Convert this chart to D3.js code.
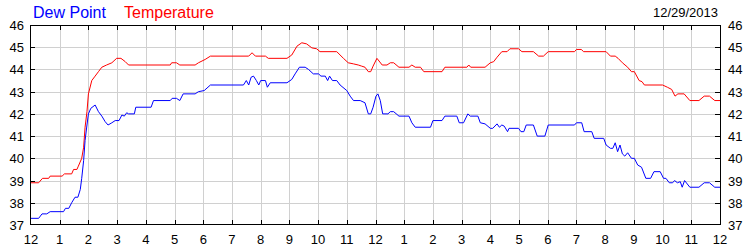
<!DOCTYPE html>
<html>
<head>
<meta charset="utf-8">
<script src="https://cdn.jsdelivr.net/npm/d3@7"></script>
<style>
  body { margin: 0; background: #fff; }
  svg { display: block; font-family: "Liberation Sans", Arial, sans-serif; }
  .grid line { stroke: #d0d0d0; stroke-width: 1; shape-rendering: crispEdges; }
  .tick-mark { stroke: #000; stroke-width: 1; shape-rendering: crispEdges; }
  .lbl { font-size: 13px; fill: #000; }
</style>
</head>
<body>
<svg id="chart" width="750" height="250"></svg>
<script>
'use strict';

// minutes after midnight
var tempMinutes = [0, 16, 24, 37, 40, 65, 70, 85, 89, 96, 99, 106, 110, 113, 117, 120, 127, 134, 141, 148,
    158, 169, 179, 188, 197, 204, 291, 294, 304, 311, 343, 350, 364, 375, 455, 462, 469, 490, 496, 535,
    545, 556, 566, 576, 587, 597, 604, 639, 653, 663, 674, 684, 691, 698, 705, 710, 715, 723, 734, 744,
    751, 758, 769, 790, 796, 803, 814, 821, 859, 865, 911, 915, 919, 949, 960, 967, 974, 984, 995, 1001,
    1019, 1026, 1050, 1061, 1071, 1081, 1136, 1140, 1150, 1155, 1202, 1211, 1221, 1227, 1236, 1247, 1255, 1261, 1271, 1277,
    1282, 1320, 1330, 1339, 1346, 1352, 1365, 1377, 1396, 1407, 1418, 1429, 1440];
var tempValues = [38.9, 38.9, 39.1, 39.1, 39.2, 39.2, 39.3, 39.3, 39.5, 39.5, 39.65, 40.0, 40.5, 41.4, 42.1, 42.9, 43.5, 43.7, 43.9, 44.1,
    44.2, 44.3, 44.5, 44.5, 44.35, 44.2, 44.2, 44.3, 44.3, 44.2, 44.2, 44.3, 44.45, 44.6, 44.6, 44.75, 44.6, 44.6, 44.5, 44.5,
    44.65, 45.05, 45.2, 45.15, 44.97, 44.93, 44.8, 44.8, 44.5, 44.3, 44.25, 44.2, 44.15, 44.1, 43.9, 43.9, 44.15, 44.5, 44.2, 44.2,
    44.3, 44.3, 44.1, 44.1, 44.2, 44.1, 44.1, 43.9, 43.9, 44.1, 44.1, 44.2, 44.1, 44.1, 44.3, 44.35, 44.55, 44.8, 44.8, 44.93,
    44.93, 44.8, 44.8, 44.6, 44.6, 44.8, 44.8, 44.9, 44.9, 44.8, 44.8, 44.6, 44.6, 44.5, 44.3, 44.1, 43.9, 43.9, 43.5, 43.45,
    43.3, 43.3, 43.2, 43.1, 42.8, 42.9, 42.9, 42.6, 42.6, 42.8, 42.8, 42.6, 42.6];

var dewMinutes = [0, 16, 23, 33, 40, 68, 72, 79, 85, 92, 98, 103, 106, 110, 113, 117, 120, 125, 134, 141,
    148, 155, 161, 169, 176, 184, 190, 195, 200, 204, 216, 219, 251, 256, 291, 295, 304, 311, 318, 343,
    350, 362, 375, 444, 450, 455, 460, 465, 471, 476, 480, 490, 494, 500, 535, 545, 552, 561, 573, 580,
    590, 601, 606, 615, 620, 624, 630, 639, 646, 660, 667, 674, 688, 698, 705, 710, 715, 721, 725, 730,
    735, 746, 751, 758, 769, 790, 796, 803, 835, 840, 859, 865, 890, 895, 904, 913, 918, 934, 939, 949,
    960, 965, 974, 979, 984, 989, 996, 999, 1019, 1024, 1030, 1035, 1050, 1058, 1074, 1081, 1136, 1140, 1151, 1156,
    1172, 1177, 1197, 1202, 1211, 1216, 1221, 1226, 1231, 1236, 1241, 1247, 1255, 1261, 1268, 1276, 1285, 1295, 1302, 1315,
    1322, 1327, 1334, 1341, 1345, 1351, 1357, 1361, 1366, 1377, 1396, 1407, 1418, 1429, 1440];
var dewValues = [37.3, 37.3, 37.5, 37.5, 37.6, 37.6, 37.75, 37.75, 38.0, 38.25, 38.25, 38.6, 39.1, 39.9, 40.8, 41.5, 42.0, 42.25, 42.4, 42.1,
    41.9, 41.65, 41.5, 41.6, 41.7, 41.7, 41.95, 41.9, 42.05, 42.0, 42.0, 42.3, 42.3, 42.6, 42.6, 42.7, 42.7, 42.6, 42.9, 42.9,
    43.0, 43.05, 43.3, 43.3, 43.5, 43.3, 43.65, 43.7, 43.5, 43.3, 43.5, 43.5, 43.2, 43.4, 43.4, 43.55, 43.8, 44.1, 44.1, 44.0,
    43.8, 43.8, 43.7, 43.7, 43.5, 43.7, 43.5, 43.5, 43.3, 43.05, 42.8, 42.6, 42.6, 42.5, 42.0, 42.0, 42.3, 42.8, 42.9, 42.6,
    42.0, 42.0, 42.1, 42.1, 41.9, 41.9, 41.6, 41.4, 41.4, 41.7, 41.7, 41.9, 41.9, 41.6, 41.6, 42.0, 41.9, 41.9, 41.6, 41.55,
    41.35, 41.35, 41.55, 41.4, 41.5, 41.45, 41.2, 41.35, 41.35, 41.2, 41.2, 41.5, 41.5, 41.0, 41.0, 41.5, 41.5, 41.6, 41.6, 41.2,
    41.2, 40.9, 40.9, 40.6, 40.45, 40.45, 40.7, 40.3, 40.6, 40.2, 40.1, 40.25, 40.0, 40.0, 39.7, 39.6, 39.1, 39.1, 39.4, 39.4,
    39.1, 39.1, 38.9, 38.9, 39.0, 38.9, 38.95, 38.7, 39.0, 38.7, 38.7, 38.9, 38.9, 38.7, 38.7];

var hourLabels = ['12', '1', '2', '3', '4', '5', '6', '7', '8', '9', '10', '11',
    '12', '1', '2', '3', '4', '5', '6', '7', '8', '9', '10', '11', '12'];
var yTicks = [37, 38, 39, 40, 41, 42, 43, 44, 45, 46];
var seriesNames = ['Dew Point', 'Temperature'];
var dateLabel = '12/29/2013';

(function() {

    var left = 30, right = 720, top = 25, bottom = 225;

    var svg = d3.select('#chart');

    var scaleX = d3.scaleLinear().domain([0, 1440]).range([left + 1, right]);
    var scaleY = d3.scaleLinear().domain([37, 46]).range([bottom, top]);

    var hourTicks = hourLabels.map(function(d, i) { return i * 60; });

    // grid
    var grid = svg.append('g').attr('class', 'grid');
    grid.selectAll('.gx')
        .data(hourTicks.slice(1, -1))
        .enter().append('line')
        .attr('x1', function(d) { return Math.round(scaleX(d)) + 0.5; })
        .attr('x2', function(d) { return Math.round(scaleX(d)) + 0.5; })
        .attr('y1', top)
        .attr('y2', bottom);
    grid.selectAll('.gy')
        .data(yTicks.slice(1, -1))
        .enter().append('line')
        .attr('x1', left)
        .attr('x2', right)
        .attr('y1', function(d) { return Math.round(scaleY(d)) + 0.5; })
        .attr('y2', function(d) { return Math.round(scaleY(d)) + 0.5; });

    // series
    var line = d3.line()
        .x(function(d) { return scaleX(d[0]); })
        .y(function(d) { return scaleY(d[1]); });

    svg.append('path')
        .datum(d3.zip(tempMinutes, tempValues))
        .attr('d', line)
        .attr('fill', 'none')
        .attr('stroke', '#ff0000')
        .attr('stroke-width', 1);

    svg.append('path')
        .datum(d3.zip(dewMinutes, dewValues))
        .attr('d', line)
        .attr('fill', 'none')
        .attr('stroke', '#0000ff')
        .attr('stroke-width', 1);

    // frame
    svg.append('rect')
        .attr('x', left + 0.5)
        .attr('y', top + 0.5)
        .attr('width', right - left)
        .attr('height', bottom - top - 1)
        .attr('fill', 'none')
        .attr('stroke', '#000')
        .attr('shape-rendering', 'crispEdges');

    // tick marks, pointing inward
    var ticks = svg.append('g');
    hourTicks.slice(1, -1).forEach(function(t) {
        var x = Math.round(scaleX(t)) + 0.5;
        ticks.append('line').attr('class', 'tick-mark')
            .attr('x1', x).attr('x2', x).attr('y1', top).attr('y2', top + 5);
        ticks.append('line').attr('class', 'tick-mark')
            .attr('x1', x).attr('x2', x).attr('y1', bottom - 5).attr('y2', bottom);
    });
    yTicks.slice(1, -1).forEach(function(v) {
        var y = Math.round(scaleY(v)) + 0.5;
        ticks.append('line').attr('class', 'tick-mark')
            .attr('x1', left).attr('x2', left + 5).attr('y1', y).attr('y2', y);
        ticks.append('line').attr('class', 'tick-mark')
            .attr('x1', right - 5).attr('x2', right).attr('y1', y).attr('y2', y);
    });

    // labels
    svg.selectAll('.xl')
        .data(hourLabels)
        .enter().append('text')
        .attr('class', 'lbl')
        .attr('x', function(d, i) { return scaleX(hourTicks[i]); })
        .attr('y', 244)
        .attr('text-anchor', 'middle')
        .text(function(d) { return d; });

    svg.selectAll('.yl')
        .data(yTicks)
        .enter().append('text')
        .attr('class', 'lbl')
        .attr('x', left - 6)
        .attr('y', function(d) { return scaleY(d) + 5; })
        .attr('text-anchor', 'end')
        .text(function(d) { return d; });

    svg.selectAll('.yr')
        .data(yTicks)
        .enter().append('text')
        .attr('class', 'lbl')
        .attr('x', right + 8)
        .attr('y', function(d) { return scaleY(d) + 5; })
        .text(function(d) { return d; });

    // legend + date
    svg.append('text')
        .attr('x', 33).attr('y', 18)
        .attr('font-size', 16)
        .attr('fill', '#0000ff')
        .text(seriesNames[0]);
    svg.append('text')
        .attr('x', 124).attr('y', 18)
        .attr('font-size', 16)
        .attr('fill', '#ff0000')
        .text(seriesNames[1]);
    svg.append('text')
        .attr('x', 718).attr('y', 17)
        .attr('font-size', 13)
        .attr('text-anchor', 'end')
        .text(dateLabel);

})();
</script>
</body>
</html>
